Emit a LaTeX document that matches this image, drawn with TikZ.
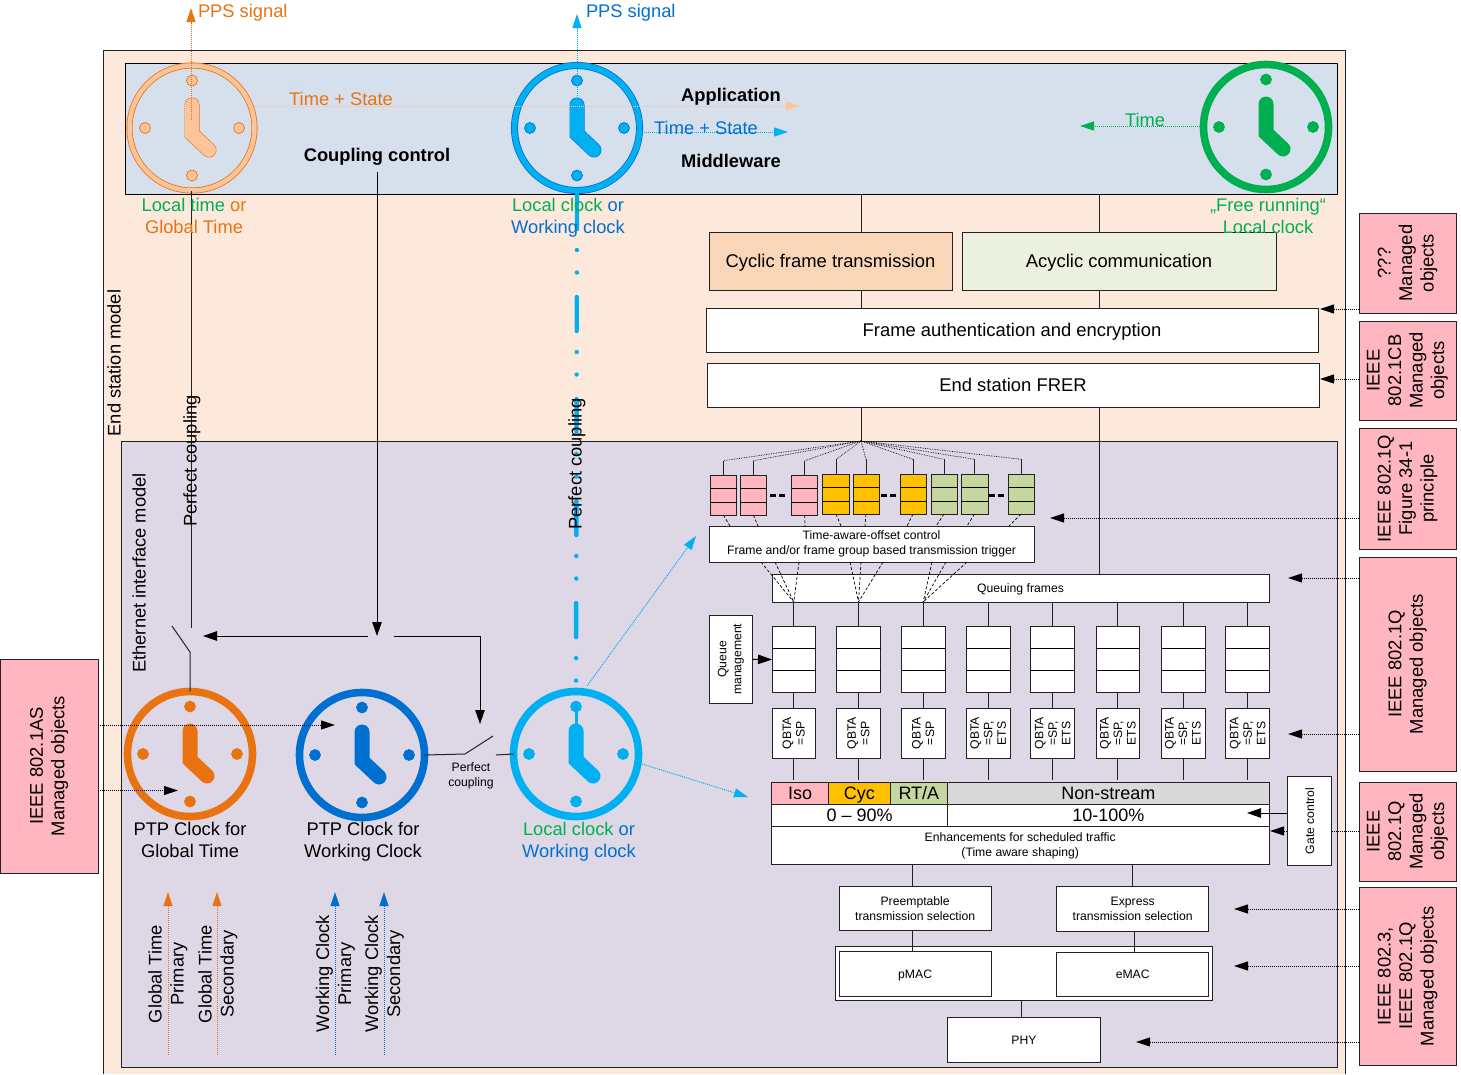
\documentclass[tikz,border=0pt]{standalone}
\usepackage{fontspec}
\setmainfont{Liberation Sans}
\usetikzlibrary{arrows.meta}
\definecolor{stationbg}{HTML}{FCE9DB}
\definecolor{appbg}{HTML}{D6DFEC}
\definecolor{ethbg}{HTML}{DED8E6}
\definecolor{ptporange}{HTML}{E97311}
\definecolor{softorange}{HTML}{FBC49A}
\definecolor{ptpblue}{HTML}{0070D0}
\definecolor{skyblue}{HTML}{00B0F0}
\definecolor{runninggreen}{HTML}{00B050}
\definecolor{isopink}{HTML}{FFB6C1}
\definecolor{cycyellow}{HTML}{FFC000}
\definecolor{rtagreen}{HTML}{C5D79F}
\definecolor{streamgray}{HTML}{D9D9D9}
\definecolor{cyclicfill}{HTML}{F9D6B8}
\definecolor{acyclicfill}{HTML}{EBF1DE}
\definecolor{edgegray}{HTML}{222222}
\newcommand\fs[1]{\fontsize{#1}{15}\selectfont}
\tikzset{
	plainbox/.style={draw=edgegray,fill=white,line width=1pt,align=center},
	managedbox/.style={draw=edgegray,fill=isopink,line width=.8pt,align=center,font=\fontsize{18.4}{21.5}\selectfont},
	tinytext/.style={align=center,font=\fontsize{12.2}{15}\selectfont},
	labeltext/.style={align=center,font=\fontsize{18.3}{22}\selectfont},
	oneline/.style={text height=#1,text depth=0pt},
	oneline/.default=13pt,
	dotarrow/.style={densely dotted,line width=1pt,-{Triangle[length=14pt,width=9pt]}},
	solidarrow/.style={line width=1pt,-{Triangle[length=14pt,width=9.5pt]}},
	link/.style={line width=1pt,draw=edgegray},
	fanline/.style={densely dashed,line width=.7pt,draw=black},
}
% x0 y0 x1 y1 are the corners of the box
\newcommand\boxnode[7][plainbox]{%
	\pgfmathsetmacro\boxw{#5-#3}\pgfmathsetmacro\boxh{#6-#4}%
	\pgfmathsetmacro\boxcx{(#3+#5)/2}\pgfmathsetmacro\boxcy{(#4+#6)/2}%
	\node[#1,minimum width=\boxw pt,minimum height=\boxh pt](#2)at(\boxcx,\boxcy){#7};}
\newcommand\rotnode[7][plainbox]{%
	\pgfmathsetmacro\boxw{#5-#3}\pgfmathsetmacro\boxh{#6-#4}%
	\pgfmathsetmacro\boxcx{(#3+#5)/2}\pgfmathsetmacro\boxcy{(#4+#6)/2}%
	\node[#1,rotate=90,minimum width=\boxh pt,minimum height=\boxw pt](#2)at(\boxcx,\boxcy){#7};}
% name, x, y, ring, fill colour, edge colour
\newcommand\clockface[6]{%
	\node[circle,draw=#6,line width=#4pt+1.6pt,minimum size=125pt](#1)at(#2,#3){};
	\node[circle,draw=#5,line width=#4pt,minimum size=125pt](#1r)at(#2,#3){};
	\begin{scope}[shift={(#2,#3)}]
		\foreach\p in{(0,-47.5),(0,47.5),(-47,0),(47,0)}{\fill[#5,draw=#6,line width=.7pt]\p circle(5.5pt);}
		\draw[#6,line width=15pt,line cap=round,line join=miter](0,-23)--(0,6)--(17,22);
		\draw[#5,line width=13.8pt,line cap=round,line join=miter](0,-23)--(0,6)--(17,22);
	\end{scope}}
\begin{document}
\begin{tikzpicture}[x=1pt,y=-1pt,every node/.style={inner sep=0pt,outer sep=0pt}]
	\useasboundingbox(0,0)rectangle(1461,1074);
	% panels
	\fill[stationbg](103,50)rectangle(1345,1074);
	\draw[edgegray,line width=1pt](103,1074)--(103,50)--(1345,50)--(1345,1074);
	\boxnode[draw=black,fill=appbg,line width=1pt]{apppanel}{125}{63}{1337}{194}{}
	\boxnode[draw=edgegray,fill=ethbg,line width=1pt]{ethpanel}{121}{441}{1337}{1067}{}
	% clocks
	\clockface{clockLT}{192}{128}{4.5}{softorange}{ptporange}
	\clockface{clockLC}{577}{128}{5.5}{skyblue}{ptpblue}
	\clockface{clockFR}{1266}{127}{6}{runninggreen}{runninggreen}
	\clockface{clockGT}{190}{754}{6}{ptporange}{ptporange}
	\clockface{clockWC}{362}{755}{6}{ptpblue}{ptpblue}
	\clockface{clockEL}{576}{754}{6}{skyblue}{skyblue}
	\draw[skyblue,line width=3pt](576,706)--(576,726);
	% end station boxes
	\boxnode[plainbox,oneline,fill=cyclicfill,font=\fs{18.4}]{cyclic}{709}{232}{952}{290}{Cyclic frame transmission}
	\boxnode[plainbox,oneline,fill=acyclicfill,font=\fs{18.4}]{acyclic}{962}{232}{1276}{290}{Acyclic communication}
	\boxnode[plainbox,oneline,font=\fs{18.4}]{frameauth}{706}{308}{1318}{352}{Frame authentication and encryption}
	\boxnode[plainbox,oneline,font=\fs{18.4}]{frer}{707}{363}{1319}{407}{End station FRER}
	\coordinate(cycbus)at(861,0);
	\coordinate(acybus)at(1099,0);
	\coordinate(fan)at(861,441);
	\draw[link](apppanel.south-|cycbus)--(cyclic.north-|cycbus);
	\draw[link](cyclic.south-|cycbus)--(frameauth.north-|cycbus);
	\draw[link](frer.south-|cycbus)--(fan);
	\draw[link](apppanel.south-|acybus)--(acyclic.north-|acybus);
	\draw[link](acyclic.south-|acybus)--(frameauth.north-|acybus);
	% small queues
	\foreach\n/\xa/\xb/\ya/\yb/\c in{sqa/710/736.7/475.7/515/isopink,sqb/740/766.7/475.7/515/isopink,sqc/791.7/817.7/475.7/515/isopink,
		sqd/822.7/849.3/474.3/514/cycyellow,sqe/853/879/474.3/514/cycyellow,sqf/900/926/474.3/514/cycyellow,
		sqg/931/957/474.3/514/rtagreen,sqh/961/988/474.3/514/rtagreen,sqi/1008/1034/474.3/514/rtagreen}{
		\boxnode[plainbox,fill=\c]{\n}{\xa}{\ya}{\xb}{\yb}{}
		\draw[line width=1pt]([yshift=-13pt]\n.north west)--([yshift=-13pt]\n.north east);
		\draw[line width=1pt]([yshift=13pt]\n.south west)--([yshift=13pt]\n.south east);
		\draw[fanline,densely dotted](fan)--([yshift=15pt]\n.north);
		\draw[link]([yshift=15pt]\n.north)--(\n.north);
	}
	\foreach\xa in{770,881,989}{
		\draw[line width=3pt](\xa,495)--++(6,0);
		\draw[line width=3pt](\xa+9,495)--++(6,0);
	}
	\boxnode[plainbox,font=\fs{12.2}]{taoffset}{709}{526}{1034}{562}{Time-aware-offset control\\Frame and/or frame group based transmission trigger}
	\foreach\n/\xt in{sqa/730,sqb/758,sqc/805,sqd/841,sqe/865,sqf/907,sqg/936,sqh/967,sqi/1009}{
		\draw[fanline](\n.south)--(\xt,0|-taoffset.north);
	}
	\boxnode[plainbox,oneline=8.8pt,font=\fs{12.2}]{queuing}{772}{574}{1269}{602}{Queuing frames}
	\draw[link](frer.south-|acybus)--(queuing.north-|acybus);
	% big queues, selection and the bars
	\foreach\n/\xa/\xb/\txt in{a/772/815.5/{QBTA\\=SP},b/836.5/880.5/{QBTA\\=SP},c/901/945.3/{QBTA\\=SP},d/966.5/1010/{QBTA\\=SP,\\ETS},
		e/1030.6/1074.7/{QBTA\\=SP,\\ETS},f/1096/1139.6/{QBTA\\=SP,\\ETS},g/1161/1205/{QBTA\\=SP,\\ETS},h/1225.7/1269.4/{QBTA\\=SP,\\ETS}}{
		\boxnode[plainbox]{bq\n}{\xa}{626.7}{\xb}{692.3}{}
		\draw[line width=1pt](bq\n.west|-0,648.3)--(bq\n.east|-0,648.3);
		\draw[line width=1pt](bq\n.west|-0,670.7)--(bq\n.east|-0,670.7);
		\rotnode[plainbox,font=\fontsize{12.2}{13.5}\selectfont]{qs\n}{\xa}{708.3}{\xb}{758.3}{\txt}
		\draw[link](queuing.south-|bq\n)--(bq\n.north);
		\draw[link](bq\n.south)--(qs\n.east);
		\draw[link](qs\n.west)--++(0,22);
	}
	\foreach\xs/\n in{761/a,775/a,799/a,850/b,861/b,883/b,932/c,946/c,967/c}{
		\draw[fanline](\xs,0|-taoffset.south)--(queuing.south-|bq\n);
	}
	\rotnode[plainbox,tinytext]{queuemgmt}{709}{615.3}{752.6}{703.3}{Queue\\management}
	\draw[solidarrow](queuemgmt.south)--(bqa.west);
	\boxnode[plainbox,oneline,fill=isopink,font=\fs{18}]{iso}{771.4}{782.7}{828.6}{804}{Iso}
	\boxnode[plainbox,oneline,fill=cycyellow,font=\fs{18}]{cyc}{828.6}{782.7}{890}{804}{Cyc}
	\boxnode[plainbox,oneline,fill=rtagreen,font=\fs{18}]{rta}{890}{782.7}{947.8}{804}{RT/A}
	\boxnode[plainbox,oneline,fill=streamgray,font=\fs{18}]{nonstream}{947.8}{782.7}{1269}{804}{Non-stream}
	\boxnode[plainbox,oneline,font=\fs{18}]{lowshare}{771.4}{804}{947.8}{826.7}{0 -- 90\%}
	\boxnode[plainbox,oneline,font=\fs{18}]{highshare}{947.8}{804}{1269}{826.7}{10-100\%}
	\boxnode[plainbox,font=\fs{12.2}]{enhance}{771.4}{826.7}{1269}{864}{Enhancements for scheduled traffic\\(Time aware shaping)}
	% selection, MAC, PHY
	\boxnode[plainbox,font=\fs{12.2}]{presel}{839.3}{886}{991}{930.7}{Preemptable\\transmission selection}
	\boxnode[plainbox,font=\fs{12.2}]{expsel}{1056.9}{886.7}{1208.5}{931.3}{Express\\transmission selection}
	\boxnode[plainbox]{macframe}{835.2}{946.7}{1212.6}{1000}{}
	\boxnode[plainbox,oneline=8.8pt,font=\fs{12.2}]{pmac}{839.3}{951.7}{991}{996.3}{pMAC}
	\boxnode[plainbox,oneline=8.8pt,font=\fs{12.2}]{emac}{1056.9}{952}{1208.5}{996.7}{eMAC}
	\boxnode[plainbox,oneline=8.8pt,font=\fs{12.2}]{phy}{947.9}{1017.7}{1100}{1062.3}{PHY}
	\draw[link](912,0|-enhance.south)--(912,0|-presel.north);
	\draw[link](1132,0|-enhance.south)--(1132,0|-expsel.north);
	\draw[link](912.6,0|-presel.south)--(912.6,0|-pmac.north);
	\draw[link](1134.8,0|-expsel.south)--(1134.8,0|-emac.north);
	\draw[link](1021.6,0|-macframe.south)--(1021.6,0|-phy.north);
	% managed objects
	\rotnode[managedbox]{moA}{1359}{213}{1456}{313}{???\\Managed\\objects}
	\rotnode[managedbox]{moB}{1359}{321}{1456}{420}{IEEE\\802.1CB\\Managed\\objects}
	\rotnode[managedbox]{moC}{1359}{428}{1456}{549}{IEEE 802.1Q\\Figure 34-1\\principle}
	\rotnode[managedbox]{moD}{1359}{557}{1456}{771}{IEEE 802.1Q\\Managed objects}
	\rotnode[managedbox]{moE}{1359}{782}{1456}{881}{IEEE\\802.1Q\\Managed\\objects}
	\rotnode[managedbox]{moF}{1359}{887}{1456}{1065}{IEEE 802.3,\\IEEE 802.1Q\\Managed objects}
	\rotnode[managedbox]{moG}{0}{659}{98}{873}{IEEE 802.1AS\\Managed objects}
	\foreach\s/\i/\xt/\yt in{moA/a/1320/309,moB/b/1320/379,moC/c/1050/518,moD/d/1288/578,moD/e/1288/734,moE/f/1270/831,moF/g/1234/909,moF/h/1234/966,moF/i/1136/1042}{
		\coordinate(tip\i)at(\xt,\yt);
		\draw[dotarrow](\s.north|-tip\i)--(tip\i);
	}
	\rotnode[plainbox,tinytext,oneline=8.8pt]{gatectl}{1287.8}{776.7}{1331.8}{865}{Gate control}
	\coordinate(gatetip)at(1247,813);
	\draw[solidarrow](gatectl.north|-gatetip)--(gatetip);
	\coordinate(tipGT)at(178,790.5);
	\coordinate(tipWC)at(335,725);
	\draw[dotarrow](moG.south|-tipWC)--(tipWC);
	\draw[dotarrow](moG.south|-tipGT)--(tipGT);
	% signals
	\coordinate(ppsO)at(191,8);
	\coordinate(ppsB)at(577,14);
	\coordinate(stateO)at(800,106);
	\coordinate(stateB)at(788,132);
	\coordinate(timeG)at(1080,126);
	\draw[dotarrow,ptporange](191,120)--(ppsO);
	\draw[dotarrow,skyblue](577,100)--(ppsB);
	\draw[dotarrow,softorange](clockLT.east|-stateO)--(stateO);
	\draw[dotarrow,skyblue](clockLC.east|-stateB)--(stateB);
	\draw[dotarrow,runninggreen](clockFR.west|-timeG)--(timeG);
	\draw[skyblue,line width=4.4pt,line cap=round,dash pattern=on 34pt off 21pt on .01pt off 22.5pt on .01pt off 24.5pt](577,195)--(clockEL.north);
	\coordinate(tipA)at(696,536);
	\coordinate(tipB)at(748,797);
	\draw[dotarrow,skyblue](587,686)--(tipA);
	\draw[dotarrow,skyblue](642,764)--(tipB);
	% coupling
	\coordinate(swGTtop)at(172,626);
	\coordinate(swGTmid)at(190,652);
	\coordinate(ctlNode)at(377,636);
	\coordinate(ctlLeft)at(203,636);
	\coordinate(ctlRight)at(394,636);
	\coordinate(swWCdown)at(480,724);
	\coordinate(swWCmid)at(465,754);
	\coordinate(swWCtop)at(493,736);
	\draw[link](191,0|-clockLT.south)--(191,628);
	\draw[link](swGTtop)--(swGTmid)--(swGTmid|-clockGT.north);
	\draw[solidarrow](368,636)--(ctlLeft);
	\draw[solidarrow](377,172)--(ctlNode);
	\draw[solidarrow](ctlRight)--(swWCdown|-ctlRight)--(swWCdown);
	\draw[link](clockWC.east)--(swWCmid)--(swWCtop);
	\draw[link](496,755)--(clockEL.west);
	\foreach\n/\xn/\yn/\txt in{lblA/168/974/{Global Time\\Primary},lblB/218/974/{Global Time\\Secondary},lblC/335.5/974/{Working Clock\\Primary},lblD/384.5/974/{Working Clock\\Secondary}}{
		\node[labeltext,rotate=90](\n)at(\xn,\yn){\txt};
	}
	\foreach\xn/\c in{168/ptporange,217/ptporange,335/ptpblue,384/ptpblue}{
		\coordinate(inp\xn)at(\xn,892);
		\draw[dotarrow,\c](\xn,1055)--(inp\xn);
	}
	% labels
	\node[labeltext,oneline,text=ptporange,anchor=west](ppsOl)at(198,11){PPS signal};
	\node[labeltext,oneline,text=ptpblue,anchor=west](ppsBl)at(586,11){PPS signal};
	\node[labeltext,oneline,text=ptporange](stateOl)at(341,99){Time + State};
	\node[labeltext,oneline,text=ptpblue](stateBl)at(706,128){Time + State};
	\node[labeltext,oneline,text=runninggreen](timeGl)at(1145,120){Time};
	\node[labeltext,oneline,font=\bfseries\fs{18.3}](coupling)at(377,155){Coupling control};
	\node[labeltext,oneline,font=\bfseries\fs{18.3}](application)at(731,95){Application};
	\node[labeltext,oneline,font=\bfseries\fs{18.3}](middleware)at(731,161){Middleware};
	\node[labeltext](clockLTl)at(194,216){\color{runninggreen}Local time \color{ptporange}or\\\color{ptporange}Global Time};
	\node[labeltext](clockLCl)at(568,218){\color{runninggreen}Local clock \color{ptpblue}or\\\color{ptpblue}Working clock};
	\node[labeltext,text=runninggreen](clockFRl)at(1268,216){„Free running“\\Local clock};
	\node[labeltext](clockGTl)at(190,840){PTP Clock for\\Global Time};
	\node[labeltext](clockWCl)at(363,842){PTP Clock for\\Working Clock};
	\node[labeltext](clockELl)at(579,842){\color{runninggreen}Local clock \color{ptpblue}or\\\color{ptpblue}Working clock};
	\node[tinytext](couplingl)at(471,776){Perfect\\coupling};
	\node[labeltext,oneline,rotate=90](stationl)at(114,363){End station model};
	\node[labeltext,oneline,rotate=90](ethl)at(139,573){Ethernet interface model};
	\node[labeltext,oneline,rotate=90](perfA)at(190,461){Perfect coupling};
	\node[labeltext,oneline,rotate=90](perfB)at(575,464){Perfect coupling};
\end{tikzpicture}
\end{document}
